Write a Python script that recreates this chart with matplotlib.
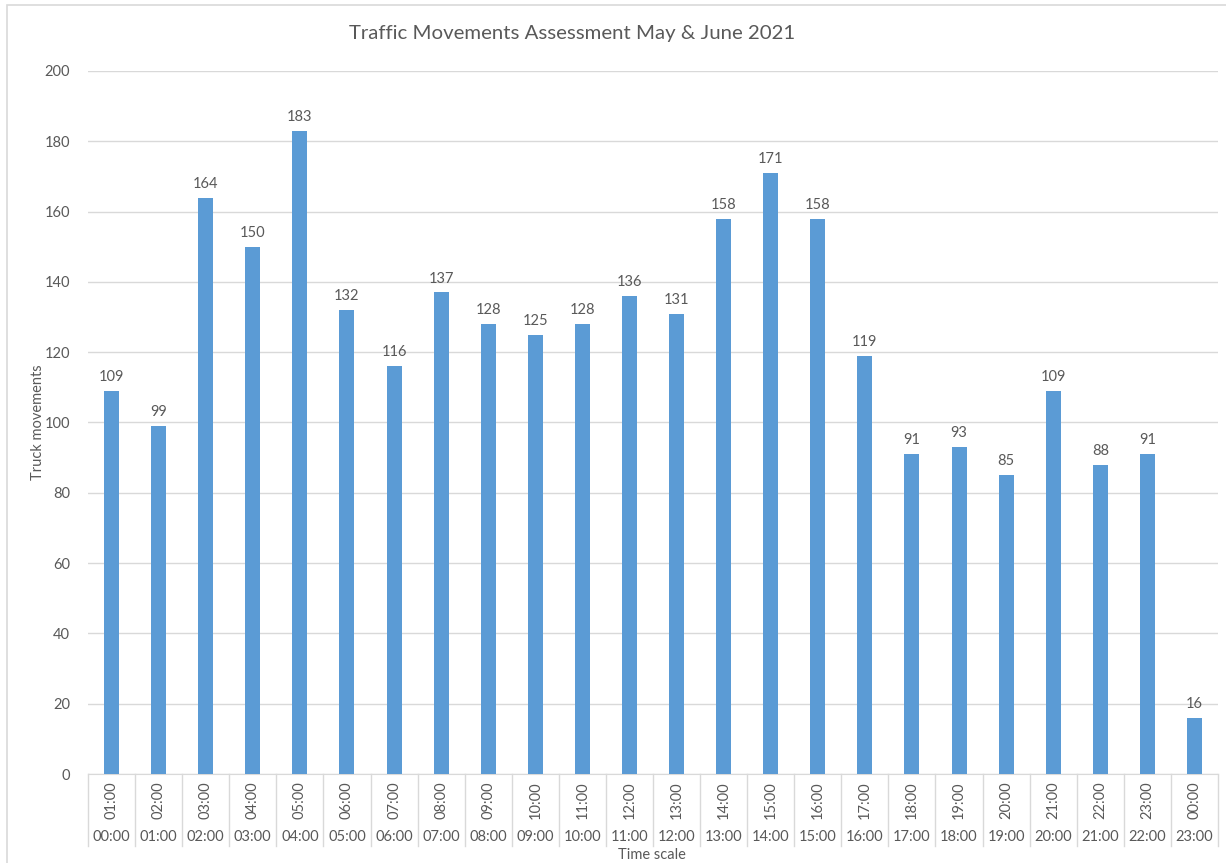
import matplotlib.pyplot as plt
from matplotlib.patches import Rectangle
import matplotlib.transforms as mtransforms

# hourly truck counts (start hour / end hour)
start_hours = ['00:00', '01:00', '02:00', '03:00', '04:00', '05:00', '06:00', '07:00',
               '08:00', '09:00', '10:00', '11:00', '12:00', '13:00', '14:00', '15:00',
               '16:00', '17:00', '18:00', '19:00', '20:00', '21:00', '22:00', '23:00']
end_hours = ['01:00', '02:00', '03:00', '04:00', '05:00', '06:00', '07:00', '08:00',
             '09:00', '10:00', '11:00', '12:00', '13:00', '14:00', '15:00', '16:00',
             '17:00', '18:00', '19:00', '20:00', '21:00', '22:00', '23:00', '00:00']
trucks = [109, 99, 164, 150, 183, 132, 116, 137, 128, 125, 128, 136,
          131, 158, 171, 158, 119, 91, 93, 85, 109, 88, 91, 16]

txt = '#595959'
grid = '#D9D9D9'
fs = 10.5
plt.rcParams['font.family'] = ['Lato', 'DejaVu Sans']

fig = plt.figure(figsize=(12.26, 8.63), dpi=100)
ax = fig.add_axes([88 / 1226, 1 - 774 / 863, (1218 - 88) / 1226, (774 - 71) / 863])

x = list(range(len(trucks)))
bars = ax.bar(x, trucks, width=0.32, color='#5B9BD5', zorder=3)

for xi, v in zip(x, trucks):
    ax.annotate(str(v), (xi, v), xytext=(0, 5), textcoords='offset points',
                ha='center', va='bottom', fontsize=fs, color=txt)

ax.set_xlim(-0.5, len(trucks) - 0.5)
ax.set_ylim(0, 200)
ax.set_yticks(range(0, 201, 20))
ax.tick_params(axis='y', length=0, labelsize=fs, labelcolor=txt, pad=13)
ax.set_xticks([])
ax.grid(axis='y', color=grid, lw=1, zorder=0)
for s in ['top', 'right', 'left']:
    ax.spines[s].set_visible(False)
ax.spines['bottom'].set_color(grid)

# two-level category axis
trans = mtransforms.blended_transform_factory(ax.transData, ax.transAxes)
for i in range(len(trucks) + 1):
    ax.plot([i - 0.5, i - 0.5], [0, -0.1024], transform=trans, color=grid,
            lw=1, clip_on=False)
for xi, a, b in zip(x, end_hours, start_hours):
    ax.text(xi, -0.037, a, transform=trans, rotation=90, ha='center', va='center',
            fontsize=fs, color=txt)
    ax.text(xi, -0.0896, b, transform=trans, ha='center', va='center',
            fontsize=fs, color=txt)

fig.text(572 / 1226, 1 - 33 / 863, 'Traffic Movements Assessment May & June 2021',
         ha='center', va='center', fontsize=14.7, color=txt)
fig.text(38 / 1226, 1 - 422 / 863, 'Truck movements', rotation=90,
         ha='center', va='center', fontsize=fs, color=txt)
fig.text(652 / 1226, 1 - 855 / 863, 'Time scale', ha='center', va='center',
         fontsize=fs, color=txt)

# chart border
fig.patches.append(Rectangle((7 / 1226, -0.05), 1.2, 1.05 - 5 / 863, fill=False,
                             edgecolor=grid, lw=1.2, transform=fig.transFigure))

fig.savefig('out.png', dpi=100)
